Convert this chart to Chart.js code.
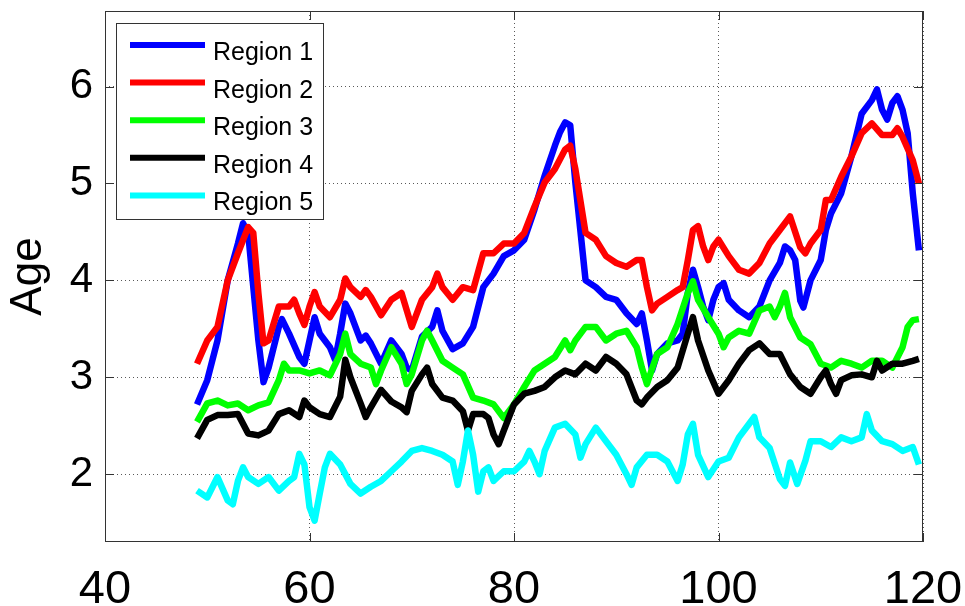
<!DOCTYPE html>
<html>
<head>
<meta charset="utf-8">
<script src="https://cdn.jsdelivr.net/npm/chart.js@4"></script>
<style>
  html, body { margin: 0; padding: 0; background: #fff; }
  canvas { display: block; }
</style>
</head>
<body>
<canvas id="c" width="965" height="606"></canvas>
<script>
// ---- Data ----
const seriesNames = ["Region 1", "Region 2", "Region 3", "Region 4", "Region 5"];
const xTicks = [40, 60, 80, 100, 120];
const yTicks = [2, 3, 4, 5, 6];
const yAxisTitle = "Age";

const r1x = [49,50,51,52,53,53.5,54,55,55.5,56,57,57.3,58,59,59.5,60,60.5,61,62,62.5,63,63.5,64,65,65.5,66,67,68,69,69.5,70,71,72,72.5,73,74,75,76,77,78,79,80,81,82,83,84,84.5,85,85.5,86,87,88,89,90,91,92,92.5,93,93.5,94,95,96,96.5,97,97.5,98,98.5,99,99.5,100,100.5,101,102,103,104,105,106,106.5,107,107.5,108,108.3,109,110,110.5,111,112,113,114,115,115.5,116,116.5,117,117.5,118,118.5,119,119.6];
const r1y = [2.72,2.97,3.38,4.0,4.38,4.59,4.49,3.38,2.95,3.1,3.52,3.6,3.45,3.21,3.14,3.38,3.62,3.45,3.31,3.18,3.45,3.76,3.66,3.38,3.43,3.35,3.14,3.38,3.24,3.1,3.07,3.42,3.52,3.69,3.48,3.29,3.35,3.52,3.93,4.07,4.25,4.31,4.42,4.73,5.08,5.39,5.53,5.63,5.6,5.01,4.0,3.93,3.83,3.8,3.66,3.55,3.66,3.38,3.07,3.24,3.35,3.38,3.45,3.87,4.11,3.93,3.73,3.59,3.8,3.93,3.97,3.8,3.69,3.62,3.73,4.0,4.18,4.35,4.31,4.21,3.79,3.72,4.0,4.21,4.52,4.69,4.9,5.28,5.72,5.86,5.97,5.76,5.66,5.83,5.9,5.76,5.52,4.9,4.31];

const r2x = [49,50,51,52,53,54,54.5,55,55.5,56,57,58,58.5,59,59.5,60,60.5,61,62,63,63.5,64,65,65.5,66,67,68,69,70,71,72,72.5,73,74,75,76,77,78,79,80,81,82,83,84,85,85.5,86,87,88,89,90,91,92,92.5,93,93.5,94,95,96,96.5,97,97.5,98,98.5,99,99.5,100,101,102,103,104,105,106,107,108,108.5,109,110,110.5,111,112,113,114,115,116,117,117.5,118,119,119.6];
const r2y = [3.14,3.38,3.52,4.0,4.28,4.55,4.49,3.87,3.35,3.38,3.73,3.73,3.8,3.66,3.54,3.73,3.88,3.73,3.62,3.8,4.02,3.93,3.83,3.9,3.83,3.64,3.8,3.87,3.52,3.8,3.93,4.07,3.93,3.8,3.93,3.9,4.28,4.28,4.38,4.38,4.49,4.76,5.01,5.15,5.35,5.39,5.15,4.49,4.42,4.25,4.18,4.14,4.21,4.21,3.93,3.69,3.76,3.83,3.9,3.93,4.21,4.52,4.56,4.35,4.21,4.35,4.42,4.25,4.11,4.07,4.18,4.38,4.52,4.66,4.34,4.28,4.38,4.52,4.83,4.83,5.07,5.28,5.52,5.62,5.5,5.5,5.57,5.48,5.24,5.0];

const r3x = [49,50,51,52,53,54,55,56,57,57.5,58,59,60,61,62,63,63.5,64,65,66,66.5,67,68,69,69.5,70,71,71.5,72,73,74,75,76,77,78,79,80,81,82,83,84,85,85.5,86,87,88,89,90,91,92,92.5,93,94,95,96,97,97.5,98,99,100,100.5,101,102,103,104,105,105.5,106,106.5,107,108,109,110,111,112,113,114,115,116,117,118,118.5,119,119.6];
const r3y = [2.54,2.73,2.76,2.71,2.73,2.66,2.71,2.74,2.97,3.14,3.07,3.07,3.04,3.07,3.02,3.24,3.45,3.24,3.14,3.1,2.93,3.07,3.31,3.14,2.93,3.03,3.38,3.48,3.38,3.17,3.1,3.03,2.79,2.76,2.72,2.58,2.72,2.9,3.07,3.14,3.21,3.38,3.28,3.38,3.52,3.52,3.38,3.45,3.48,3.31,3.1,2.93,3.24,3.31,3.55,3.87,3.99,3.8,3.62,3.45,3.31,3.41,3.48,3.45,3.69,3.73,3.62,3.73,3.87,3.62,3.41,3.34,3.14,3.1,3.17,3.14,3.1,3.17,3.17,3.1,3.31,3.52,3.59,3.6];

const r4x = [49,50,51,52,53,54,55,56,57,58,59,59.5,60,61,62,63,63.5,64,65,65.5,66,67,68,69,69.5,70,71,71.5,72,73,74,75,75.5,76,77,77.5,78,78.5,79,80,81,82,83,84,85,86,87,88,89,90,91,92,92.5,93,94,95,96,97,97.5,98,99,100,101,102,103,104,105,106,107,108,109,110,110.5,111,111.5,112,113,114,115,115.5,116,117,118,119,119.6];
const r4y = [2.37,2.56,2.61,2.61,2.62,2.42,2.4,2.45,2.62,2.66,2.59,2.76,2.69,2.62,2.59,2.8,3.18,3.0,2.73,2.59,2.69,2.87,2.75,2.69,2.64,2.86,3.03,3.1,2.93,2.79,2.76,2.65,2.45,2.62,2.62,2.58,2.41,2.31,2.45,2.72,2.83,2.86,2.9,3.0,3.07,3.03,3.14,3.07,3.21,3.14,3.03,2.76,2.72,2.79,2.9,2.97,3.1,3.45,3.62,3.38,3.07,2.83,2.97,3.14,3.28,3.35,3.24,3.24,3.03,2.9,2.83,3.0,3.07,2.93,2.83,2.97,3.02,3.03,3.0,3.17,3.07,3.14,3.14,3.17,3.19];

const r5x = [49,50,51,52,52.5,53,53.5,54,55,56,57,58,58.5,59,59.5,60,60.5,61,61.5,62,63,64,65,66,67,68,69,70,71,72,73,74,74.5,75,75.5,76,76.5,77,77.5,78,79,80,81,81.5,82,82.5,83,84,85,86,86.5,87,88,89,90,91,91.5,92,93,94,95,96,96.5,97,97.5,98,99,100,101,102,103,103.5,104,105,106,106.5,107,107.7,108.5,109,110,111,112,113,114,114.5,115,116,117,118,119,119.6];
const r5y = [1.83,1.76,1.97,1.73,1.69,1.93,2.07,1.97,1.9,1.97,1.83,1.93,1.97,2.21,2.1,1.66,1.52,1.8,2.07,2.21,2.1,1.9,1.8,1.87,1.93,2.03,2.13,2.24,2.27,2.24,2.2,2.13,1.89,2.13,2.45,2.2,1.82,2.03,2.07,1.93,2.03,2.03,2.13,2.24,2.13,2.0,2.24,2.48,2.52,2.41,2.17,2.31,2.48,2.34,2.2,2.0,1.89,2.07,2.2,2.2,2.13,1.93,2.1,2.41,2.52,2.2,1.97,2.13,2.17,2.38,2.52,2.59,2.38,2.27,1.95,1.88,2.12,1.9,2.14,2.34,2.34,2.28,2.38,2.34,2.38,2.62,2.45,2.34,2.31,2.24,2.28,2.1];

const seriesX = [r1x, r2x, r3x, r4x, r5x];
const seriesY = [r1y, r2y, r3y, r4y, r5y];
const seriesColors = ["#0000ff", "#ff0000", "#00ff00", "#000000", "#00ffff"];

// ---- Build datasets ----
const datasets = seriesNames.map((name, i) => ({
  label: name,
  data: seriesX[i].map((x, j) => ({ x: x, y: seriesY[i][j] })),
  borderColor: seriesColors[i],
  backgroundColor: seriesColors[i],
  borderWidth: 6.5,
  pointRadius: 0,
  tension: 0,
  borderJoinStyle: "round",
  fill: false,
  order: seriesNames.length - i  // later series drawn on top (as in MATLAB)
}));

const FONT = "'Liberation Sans', Arial, Helvetica, sans-serif";

// Plugin: MATLAB-like box, inward ticks, and legend
const matlabDecor = {
  id: "matlabDecor",
  afterDatasetsDraw(chart) {
    const ctx = chart.ctx;
    const a = chart.chartArea;
    const xs = chart.scales.x, ys = chart.scales.y;
    ctx.save();
    // box
    ctx.strokeStyle = "#333333";
    ctx.lineWidth = 1;
    ctx.setLineDash([]);
    ctx.strokeRect(Math.round(a.left) + 0.5, Math.round(a.top) + 0.5,
                   Math.round(a.right - a.left) - 1, Math.round(a.bottom - a.top) - 1);
    // inward ticks
    const tl = 9;
    ctx.beginPath();
    xTicks.forEach(v => {
      const px = Math.round(xs.getPixelForValue(v)) + 0.5;
      ctx.moveTo(px, a.bottom); ctx.lineTo(px, a.bottom - tl);
      ctx.moveTo(px, a.top); ctx.lineTo(px, a.top + tl);
    });
    yTicks.forEach(v => {
      const py = Math.round(ys.getPixelForValue(v)) + 0.5;
      ctx.moveTo(a.left, py); ctx.lineTo(a.left + tl, py);
      ctx.moveTo(a.right, py); ctx.lineTo(a.right - tl, py);
    });
    ctx.stroke();

    // legend
    const lx = a.left + 11, ly = a.top + 12, lw = 207, lh = 196;
    ctx.fillStyle = "#ffffff";
    ctx.fillRect(lx, ly, lw, lh);
    ctx.strokeStyle = "#333333";
    ctx.strokeRect(lx + 0.5, ly + 0.5, lw, lh);
    const rowH = 37.6;
    ctx.font = "25px " + FONT;
    ctx.textBaseline = "alphabetic";
    ctx.textAlign = "left";
    chart.data.datasets.forEach((ds, i) => {
      const cy = ly + 22 + i * rowH;
      ctx.strokeStyle = ds.borderColor;
      ctx.lineWidth = 6;
      ctx.beginPath();
      ctx.moveTo(lx + 14, cy);
      ctx.lineTo(lx + 89, cy);
      ctx.stroke();
      ctx.fillStyle = "#000000";
      ctx.fillText(ds.label, lx + 97, cy + 15);
    });
    ctx.restore();
  }
};

new Chart(document.getElementById("c"), {
  type: "line",
  data: { datasets: datasets },
  plugins: [matlabDecor],
  options: {
    responsive: false,
    animation: false,
    devicePixelRatio: 1,
    layout: { padding: { left: 0, top: 11, right: 42, bottom: 0 } },
    plugins: {
      legend: { display: false },
      tooltip: { enabled: false }
    },
    scales: {
      x: {
        type: "linear",
        min: 40,
        max: 120,
        afterBuildTicks: (s) => { s.ticks = xTicks.map(v => ({ value: v })); },
        afterFit: (s) => { s.height = 64; s.paddingLeft = 0; s.paddingRight = 0; },
        ticks: {
          maxRotation: 0,
          autoSkip: false,
          padding: 20,
          color: "#000",
          font: { family: FONT, size: 47 }
        },
        grid: {
          color: "rgba(0,0,0,0.65)",
          lineWidth: 1,
          drawTicks: false
        },
        border: { display: false, dash: [1, 3] }
      },
      y: {
        type: "linear",
        min: 1.3,
        max: 6.78,
        afterBuildTicks: (s) => { s.ticks = yTicks.map(v => ({ value: v })); },
        afterFit: (s) => { s.width = 105; s.paddingTop = 0; s.paddingBottom = 0; },
        ticks: {
          padding: 12,
          color: "#000",
          font: { family: FONT, size: 42 }
        },
        title: {
          display: true,
          text: yAxisTitle,
          color: "#000",
          padding: { top: 2, bottom: 0 },
          font: { family: FONT, size: 44 }
        },
        grid: {
          color: "rgba(0,0,0,0.65)",
          lineWidth: 1,
          drawTicks: false
        },
        border: { display: false, dash: [1, 3] }
      }
    }
  }
});
</script>
</body>
</html>
